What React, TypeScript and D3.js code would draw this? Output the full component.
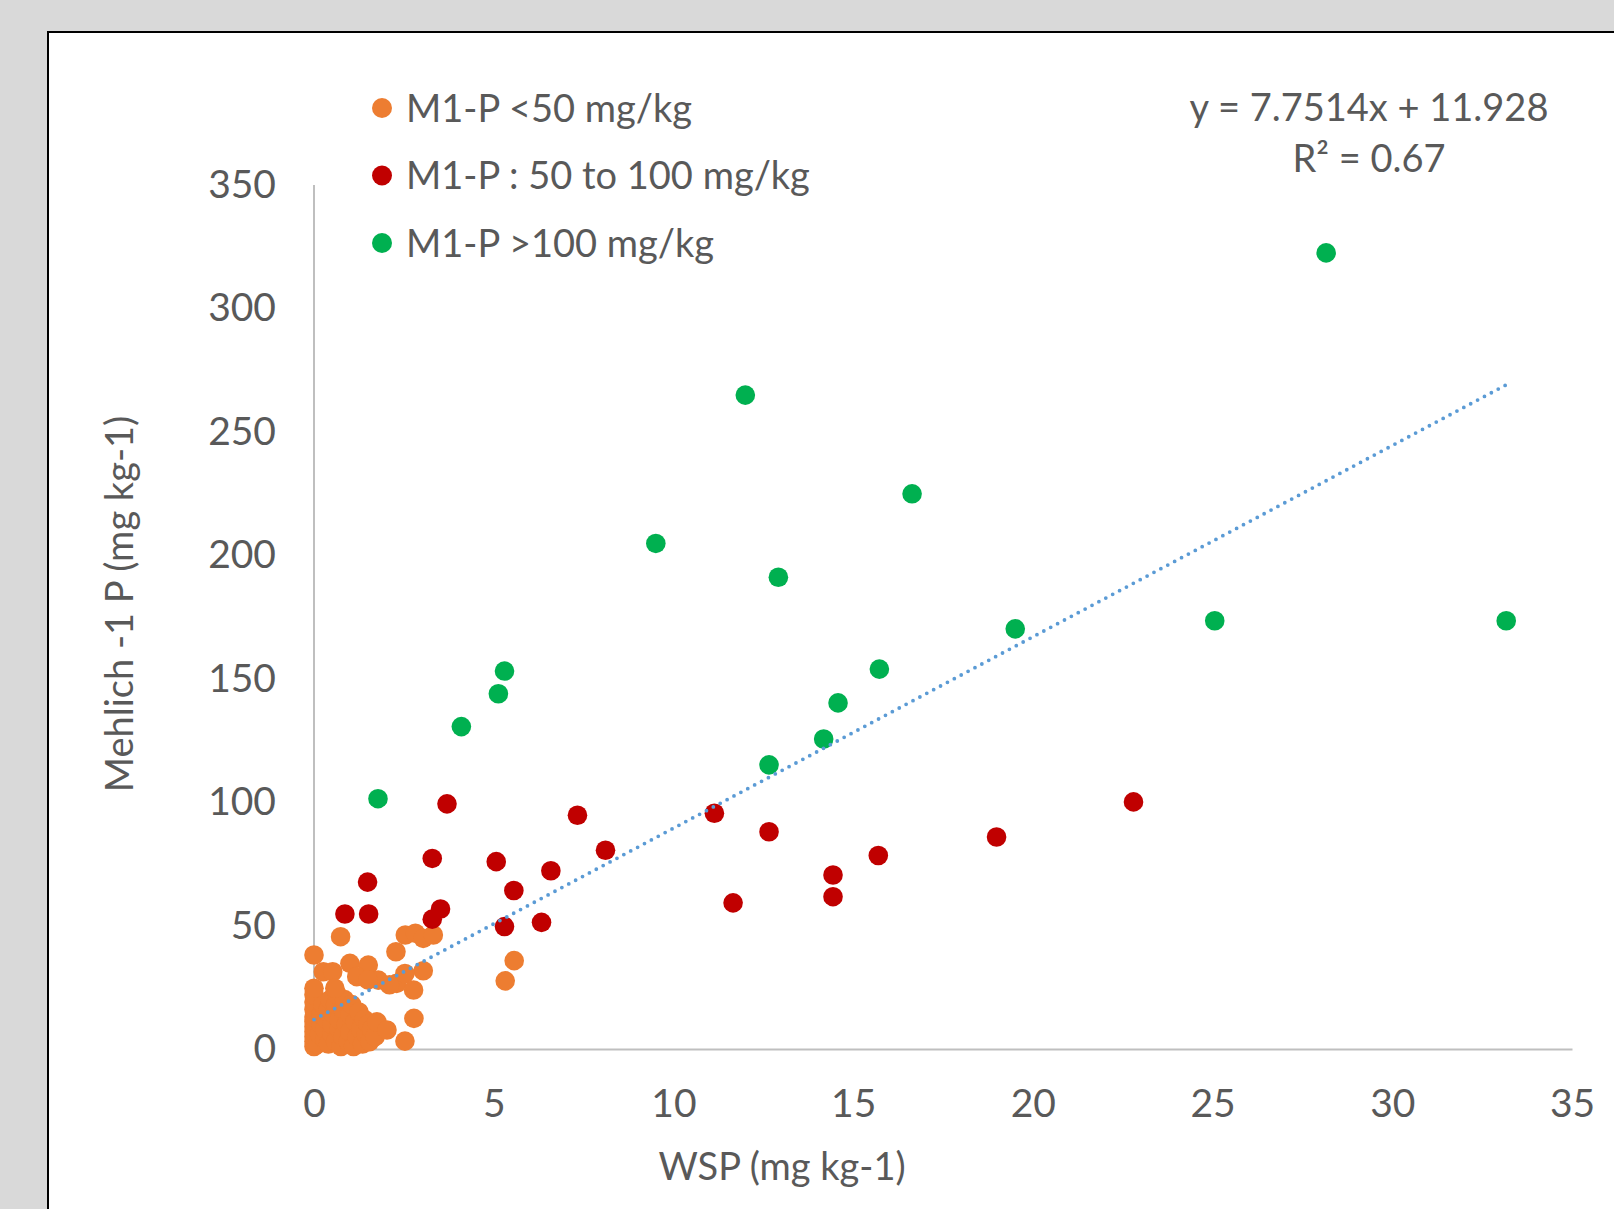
import React, { useEffect, useRef } from "react";
import * as d3 from "d3";

// WSP (x) vs Mehlich-1 P (y)
const orangeX = [
  0, 0, 0, 0, 0, 0, 0, 0, 0, 0, 0.1, 0.15, 0.2, 0.2, 0.25, 0.3, 0.3, 0.35, 0.4, 0.4,
  0.45, 0.5, 0.5, 0.55, 0.6, 0.6, 0.65, 0.7, 0.7, 0.75, 0.8, 0.8, 0.85, 0.9, 0.95, 1.0,
  1.0, 1.05, 1.1, 1.15, 1.2, 1.25, 1.3, 1.35, 1.4, 1.45, 1.5, 1.55, 1.6, 1.7, 1.75,
  0.74, 0, 2.28, 2.54, 2.82, 3.04, 3.32, 0.26, 0.52, 1.0, 1.51, 3.04, 2.3, 2.53, 2.77,
  1.79, 1.19, 1.5, 0, 0.58, 5.57, 5.32, 2.78, 2.03, 2.53, 2.1,
];
const orangeY = [
  1, 3, 5, 7, 9, 11, 13, 16, 19, 22, 2, 6, 10, 14, 18, 4, 8, 12, 2, 16,
  20, 6, 10, 14, 3, 18, 22, 8, 12, 1, 5, 16, 20, 10, 3, 7,
  14, 18, 1, 11, 5, 15, 8, 2, 12, 6, 10, 3, 8, 5, 11,
  45.5, 38.1, 39.4, 46.2, 46.9, 44.8, 46.2, 31.3, 31.3, 34.7, 34.0, 31.7, 26.6, 30.6, 23.9,
  27.9, 29.3, 28, 24.6, 24.6, 35.8, 27.6, 12.4, 7.7, 3.2, 26,
];
const redX = [
  0.86, 1.49, 1.52, 3.29, 3.29, 3.52, 3.7, 5.07, 5.3, 5.56, 6.33, 6.59, 7.33, 8.11,
  11.14, 11.66, 12.66, 14.44, 14.44, 15.7, 18.99, 22.8,
];
const redY = [
  54.7, 67.6, 54.7, 77.2, 52.6, 56.7, 99.3, 75.9, 49.6, 64.2, 51.3, 72.2, 94.7, 80.5,
  95.5, 59.2, 88.0, 70.5, 61.7, 78.4, 85.9, 100.1,
];
const greenX = [
  1.78, 4.1, 5.13, 5.3, 9.51, 12.0, 12.66, 12.92, 14.18, 14.58, 15.73, 16.64, 19.51,
  25.06, 28.16, 33.17,
];
const greenY = [
  101.4, 130.6, 143.9, 153.1, 204.8, 264.9, 115.1, 191.1, 125.6, 140.2, 153.9, 224.9,
  170.2, 173.5, 322.5, 173.5,
];
const seriesNames = ["M1-P <50 mg/kg", "M1-P : 50 to 100 mg/kg", "M1-P >100 mg/kg"];
const seriesColors = ["#ED7D31", "#C00000", "#00B050"];
const xTicks = [0, 5, 10, 15, 20, 25, 30, 35];
const yTicks = [0, 50, 100, 150, 200, 250, 300, 350];
const slope = 7.7514;
const intercept = 11.928;

const W = 1614;
const H = 1209;
const FONT = "Lato, 'Open Sans', sans-serif";
const TEXT = "#595959";

const Chart = () => {
  const svgRef = useRef<SVGSVGElement>(null);

  useEffect(() => {
    const svg = d3.select(svgRef.current);
    svg.selectAll("*").remove();

    const x = d3.scaleLinear([0, 35], [314, 1572]);
    const y = d3.scaleLinear([0, 350], [1049, 185]);

    // background + chart area box
    svg.append("rect").attr("width", W).attr("height", H).attr("fill", "#D9D9D9");
    svg
      .append("rect")
      .attr("x", 48)
      .attr("y", 32)
      .attr("width", W)
      .attr("height", H)
      .attr("fill", "#fff")
      .attr("stroke", "#000")
      .attr("stroke-width", 2);

    // axes
    const styleAxis = (g) => {
      g.select(".domain").attr("stroke", "#BFBFBF").attr("stroke-width", 2);
      g.selectAll(".tick line").remove();
      g.selectAll(".tick text")
        .attr("fill", TEXT)
        .attr("font-size", 39)
        .attr("font-family", FONT);
    };
    svg
      .append("g")
      .attr("transform", `translate(0,${y(0)})`)
      .call(d3.axisBottom(x).tickValues(xTicks).tickSize(0).tickSizeOuter(0).tickPadding(40))
      .call(styleAxis);
    svg
      .append("g")
      .attr("transform", `translate(${x(0)},0)`)
      .call(d3.axisLeft(y).tickValues(yTicks).tickSize(0).tickSizeOuter(0).tickPadding(38))
      .call(styleAxis)
      .call((g) => g.select(".domain").attr("d", `M0,${y(350)}V${y(0)}`));

    // axis titles
    svg
      .append("text")
      .attr("x", 782)
      .attr("y", 1180)
      .attr("text-anchor", "middle")
      .attr("fill", TEXT)
      .attr("font-size", 38)
      .attr("font-family", FONT)
      .text("WSP (mg kg-1)");
    svg
      .append("text")
      .attr("transform", "translate(133,604) rotate(-90)")
      .attr("text-anchor", "middle")
      .attr("fill", TEXT)
      .attr("font-size", 38)
      .attr("font-family", FONT)
      .text("Mehlich -1 P (mg kg-1)");

    // points
    const series = [
      [orangeX, orangeY],
      [redX, redY],
      [greenX, greenY],
    ];
    series.forEach(([xs, ys], s) => {
      svg
        .append("g")
        .selectAll("circle")
        .data(d3.range(xs.length))
        .join("circle")
        .attr("cx", (i) => x(xs[i]))
        .attr("cy", (i) => y(ys[i]))
        .attr("r", 9.8)
        .attr("fill", seriesColors[s]);
    });

    // linear trendline over data x range
    const allX = [...orangeX, ...redX, ...greenX];
    const [x0, x1] = d3.extent(allX);
    svg
      .append("path")
      .attr("d", d3.line()([[x(x0), y(slope * x0 + intercept)], [x(x1), y(slope * x1 + intercept)]]))
      .attr("stroke", "#5B9BD5")
      .attr("stroke-width", 3.8)
      .attr("stroke-linecap", "round")
      .attr("stroke-dasharray", "0 7.8")
      .attr("fill", "none");

    // equation
    const eq = svg
      .append("text")
      .attr("text-anchor", "middle")
      .attr("fill", TEXT)
      .attr("font-size", 38)
      .attr("font-family", FONT);
    eq.append("tspan").attr("x", 1369).attr("y", 121).text("y = 7.7514x + 11.928");
    eq.append("tspan").attr("x", 1369).attr("y", 172).text("R² = 0.67");

    // legend
    const leg = svg
      .append("g")
      .selectAll("g")
      .data(seriesNames)
      .join("g")
      .attr("transform", (d, i) => `translate(382,${108 + i * 67.5})`);
    leg.append("circle").attr("r", 10).attr("fill", (d, i) => seriesColors[i]);
    leg
      .append("text")
      .attr("x", 24)
      .attr("dy", "0.36em")
      .attr("fill", TEXT)
      .attr("font-size", 38)
      .attr("font-family", FONT)
      .text((d) => d);
  }, []);

  return (
    <svg
      ref={svgRef}
      width={W}
      height={H}
      style={{ position: "absolute", left: 0, top: 0, display: "block" }}
    />
  );
};

export default function App() {
  return <Chart />;
}
